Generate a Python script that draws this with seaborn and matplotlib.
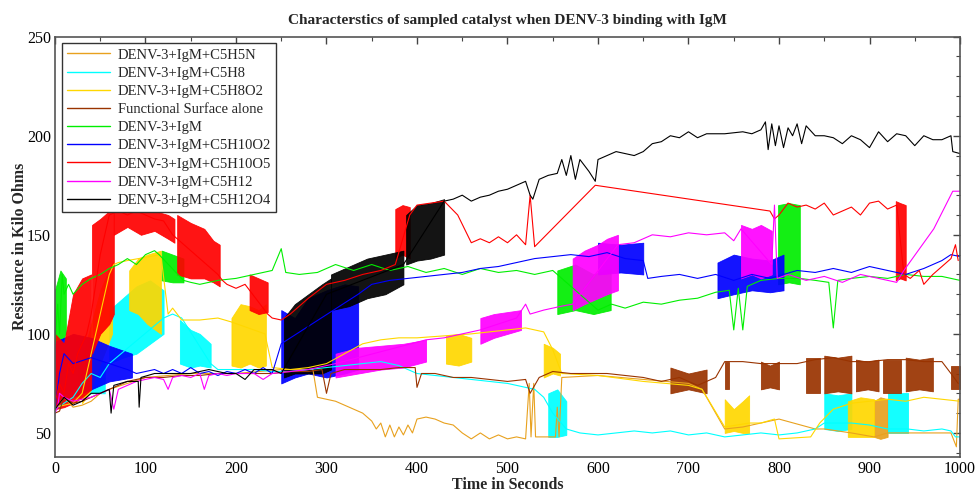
import matplotlib
matplotlib.use("Agg")
import matplotlib.pyplot as plt
import seaborn as sns
import pandas as pd
from matplotlib.ticker import MultipleLocator

# ---------------- data ----------------
series_names = ["DENV-3+IgM+C5H5N", "DENV-3+IgM+C5H8", "DENV-3+IgM+C5H8O2",
                "Functional Surface alone", "DENV-3+IgM", "DENV-3+IgM+C5H10O2",
                "DENV-3+IgM+C5H10O5", "DENV-3+IgM+C5H12", "DENV-3+IgM+C5H12O4"]
series_colors = ["#E8A11E", "#00FFFF", "#FFD700", "#993300", "#00EE00",
                 "#0000FF", "#FF0000", "#FF00FF", "#000000"]

# C5H5N (orange)
c5h5n_x = [0, 10, 20, 30, 40, 50, 60, 80, 100, 150, 200, 250, 285, 290, 300, 310, 320, 330, 340, 350, 355, 360, 365, 370, 375, 380, 385, 390, 395, 400, 410, 420, 430, 440, 445, 450, 460, 470, 480, 490, 500, 510, 520, 524, 526, 529, 531, 540, 553, 555, 557, 560, 600, 650, 700, 715, 740, 760, 780, 800, 840, 850, 880, 905, 920, 940, 960, 990, 996, 998, 1000]
c5h5n_y = [62, 68, 63, 64, 66, 70, 72, 75, 78, 80, 80, 82, 82, 68, 67, 66, 64, 62, 60, 56, 52, 55, 48, 54, 48, 53, 49, 54, 50, 57, 58, 57, 55, 54, 52, 50, 47, 50, 47, 49, 47, 48, 47, 75, 48, 75, 48, 48, 48, 63, 48, 78, 79, 77, 75, 72, 52, 53, 55, 57, 52, 52, 50, 48, 50, 50, 50, 50, 43, 67, 67]
c5h5n_band_x = [[905, 912, 920]]
c5h5n_band_lo = [[48, 47, 48]]
c5h5n_band_hi = [[66, 68, 67]]

# C5H8 (cyan)
c5h8_x = [0, 10, 20, 30, 40, 50, 60, 120, 130, 140, 172, 180, 200, 220, 240, 260, 280, 300, 320, 340, 360, 380, 400, 420, 440, 460, 480, 500, 520, 530, 540, 550, 565, 580, 600, 620, 640, 660, 680, 700, 720, 740, 760, 780, 800, 820, 840, 850, 880, 900, 920, 942, 960, 980, 990, 995, 1000]
c5h8_y = [62, 65, 68, 75, 80, 78, 85, 108, 110, 108, 85, 82, 82, 82, 81, 81, 82, 83, 84, 85, 86, 84, 80, 79, 78, 77, 76, 75, 73, 72, 68, 60, 52, 50, 49, 50, 51, 50, 51, 49, 50, 48, 49, 50, 49, 50, 52, 55, 55, 54, 52, 52, 51, 52, 51, 48, 48]
c5h8_band_x = [[25, 40, 55], [60, 75, 90, 105, 120], [138, 150, 160, 172], [545, 555, 565], [850, 865, 880], [920, 930, 942]]
c5h8_band_lo = [[68, 70, 70], [85, 88, 90, 95, 100], [85, 83, 84, 83], [48, 48, 49], [52, 51, 52], [50, 50, 50]]
c5h8_band_hi = [[84, 88, 86], [112, 118, 124, 127, 122], [107, 102, 100, 95], [70, 72, 66], [70, 69, 70], [70, 70, 70]]

# C5H8O2 (gold)
c5h8o2_x = [0, 20, 30, 45, 60, 65, 70, 80, 117, 125, 130, 140, 160, 180, 195, 232, 240, 260, 280, 300, 320, 340, 360, 380, 400, 430, 460, 480, 500, 520, 540, 550, 560, 600, 650, 700, 715, 740, 767, 780, 795, 800, 835, 845, 860, 880, 900, 920, 940, 960, 980, 1000]
c5h8o2_y = [63, 65, 70, 100, 130, 135, 136, 137, 140, 110, 113, 107, 107, 108, 106, 100, 83, 82, 83, 85, 90, 95, 97, 98, 98, 99, 100, 101, 102, 103, 101, 92, 80, 79, 76, 74, 72, 53, 55, 55, 57, 47, 48, 55, 62, 65, 66, 67, 66, 68, 67, 66]
c5h8o2_band_x = [[30, 40, 50, 63], [82, 92, 102, 117], [195, 205, 215, 225, 233], [432, 446, 460], [540, 550, 558], [740, 750, 760, 767], [876, 890, 905]]
c5h8o2_band_lo = [[65, 72, 85, 100], [112, 110, 105, 100], [84, 83, 85, 83, 84], [85, 84, 86], [78, 80, 79], [50, 51, 50, 50], [48, 48, 48]]
c5h8o2_band_hi = [[88, 105, 122, 136], [132, 138, 140, 142], [108, 115, 114, 112, 115], [99, 100, 98], [95, 93, 90], [67, 62, 66, 69], [66, 68, 67]]

# Functional Surface alone (brown)
fs_x = [0, 5, 10, 20, 30, 40, 50, 60, 70, 80, 90, 100, 120, 140, 160, 180, 200, 220, 240, 260, 280, 295, 300, 305, 320, 340, 360, 380, 398, 400, 405, 420, 440, 460, 480, 500, 520, 525, 535, 550, 570, 590, 610, 630, 650, 670, 690, 710, 730, 740, 760, 780, 800, 820, 840, 860, 880, 900, 920, 940, 960, 980, 990, 998]
fs_y = [60, 61, 68, 65, 66, 68, 70, 72, 74, 76, 77, 78, 78, 79, 79, 80, 80, 80, 80, 81, 81, 82, 70, 80, 82, 82, 82, 83, 83, 73, 80, 80, 78, 78, 77, 76, 77, 70, 78, 81, 80, 80, 80, 79, 78, 76, 78, 74, 78, 86, 86, 85, 85, 85, 87, 88, 86, 86, 87, 87, 86, 86, 80, 75]
fs_band_x = [[680, 700, 720], [740, 745], [780, 790, 800], [830, 845], [850, 865, 880], [885, 898, 910], [915, 935], [940, 955, 970], [990, 1000]]
fs_band_lo = [[70, 72, 70], [72, 72], [72, 73, 72], [70, 70], [70, 71, 70], [71, 72, 71], [70, 70], [71, 72, 71], [72, 72]]
fs_band_hi = [[83, 80, 82], [86, 86], [86, 84, 86], [88, 88], [89, 88, 89], [87, 86, 87], [87, 87], [88, 87, 88], [84, 84]]

# DENV-3+IgM (green)
igm_x = [0, 3, 5, 8, 10, 15, 20, 30, 40, 50, 60, 70, 80, 90, 100, 110, 115, 142, 150, 160, 170, 180, 200, 220, 240, 250, 255, 270, 290, 310, 330, 350, 370, 390, 410, 430, 450, 470, 490, 510, 530, 550, 560, 600, 615, 630, 650, 670, 690, 710, 730, 745, 750, 755, 760, 765, 780, 800, 823, 840, 855, 860, 865, 880, 900, 920, 940, 960, 980, 1000]
igm_y = [95, 115, 100, 130, 120, 125, 120, 125, 128, 130, 133, 135, 138, 135, 140, 142, 140, 127, 126, 125, 126, 127, 128, 130, 132, 143, 131, 130, 131, 135, 132, 135, 132, 134, 131, 133, 130, 133, 131, 132, 130, 132, 128, 112, 115, 113, 116, 115, 117, 118, 121, 122, 102, 123, 102, 124, 127, 128, 128, 127, 126, 103, 127, 128, 129, 128, 130, 129, 129, 127]
igm_band_x = [[0, 6, 12], [118, 130, 142], [555, 575, 595, 614], [799, 811, 823]]
igm_band_lo = [[90, 95, 100], [127, 126, 126], [110, 112, 110, 112], [125, 126, 125]]
igm_band_hi = [[122, 132, 128], [142, 140, 138], [132, 135, 130, 133], [165, 166, 165]]

# C5H10O2 (blue)
c5h10o2_x = [0, 5, 10, 20, 40, 60, 80, 90, 100, 110, 120, 130, 140, 150, 160, 170, 180, 190, 200, 210, 220, 230, 240, 250, 335, 350, 370, 390, 410, 430, 450, 470, 490, 510, 530, 550, 570, 590, 610, 630, 650, 655, 670, 690, 710, 730, 750, 770, 790, 805, 820, 840, 860, 880, 900, 920, 940, 960, 980, 990, 1000]
c5h10o2_y = [62, 80, 90, 85, 88, 85, 82, 80, 81, 82, 80, 82, 80, 83, 80, 81, 79, 81, 80, 82, 80, 83, 80, 95, 120, 125, 127, 128, 129, 130, 131, 133, 134, 136, 138, 139, 140, 139, 141, 138, 137, 128, 129, 130, 128, 130, 127, 130, 128, 130, 132, 131, 133, 131, 134, 132, 130, 133, 137, 140, 139]
c5h10o2_band_x = [[0, 20, 40, 60, 85], [250, 265, 280, 300, 320, 335], [600, 625, 650], [732, 750, 770, 790, 805]]
c5h10o2_band_lo = [[62, 68, 72, 76, 78], [75, 78, 80, 78, 80, 82], [130, 131, 130], [118, 120, 122, 121, 122]]
c5h10o2_band_hi = [[96, 100, 98, 94, 90], [112, 108, 118, 122, 125, 124], [146, 145, 146], [136, 140, 138, 137, 140]]

# C5H10O5 (red)
c5h10o5_x = [0, 5, 10, 15, 20, 25, 30, 35, 40, 50, 60, 70, 80, 90, 100, 110, 120, 130, 135, 180, 185, 190, 200, 210, 215, 235, 240, 250, 260, 280, 300, 320, 340, 360, 376, 392, 400, 430, 445, 460, 470, 480, 490, 500, 510, 520, 525, 530, 597, 790, 795, 800, 810, 820, 830, 840, 850, 860, 870, 880, 890, 900, 910, 920, 930, 938, 945, 955, 960, 970, 980, 990, 995, 998]
c5h10o5_y = [65, 75, 70, 85, 80, 90, 95, 100, 110, 140, 160, 162, 160, 162, 160, 158, 157, 150, 148, 130, 127, 125, 123, 125, 122, 110, 108, 107, 110, 118, 125, 127, 130, 132, 135, 160, 165, 167, 160, 146, 148, 146, 149, 146, 150, 145, 170, 144, 175, 162, 158, 160, 166, 164, 165, 163, 166, 160, 162, 164, 160, 166, 167, 163, 165, 130, 128, 132, 125, 130, 134, 138, 145, 137]
c5h10o5_band_x = [[0, 10, 20, 30, 40], [41, 50, 60, 65], [65, 80, 95, 110, 125, 132], [135, 150, 165, 175, 182], [215, 225, 235], [376, 384, 392], [929, 934, 940]]
c5h10o5_band_lo = [[62, 63, 65, 68, 72], [90, 100, 105, 110], [150, 154, 150, 152, 148, 146], [130, 128, 128, 126, 124], [112, 110, 111], [138, 140, 138], [127, 128, 127]]
c5h10o5_band_hi = [[100, 95, 120, 128, 130], [155, 158, 162, 165], [165, 163, 166, 162, 160, 158], [160, 156, 153, 147, 145], [130, 128, 126], [163, 165, 164], [167, 166, 165]]

# C5H12 (magenta)
c5h12_x = [0, 3, 5, 10, 20, 30, 40, 50, 60, 65, 70, 80, 90, 100, 110, 120, 125, 130, 140, 150, 160, 165, 170, 180, 190, 200, 220, 230, 240, 260, 280, 300, 310, 410, 430, 450, 470, 510, 520, 525, 540, 560, 572, 622, 640, 660, 680, 700, 720, 740, 750, 758, 792, 795, 798, 810, 830, 850, 870, 890, 910, 930, 938, 971, 992, 1000]
c5h12_y = [60, 63, 70, 68, 66, 67, 68, 70, 72, 62, 72, 74, 76, 77, 78, 77, 72, 78, 79, 78, 80, 72, 79, 80, 79, 80, 80, 77, 80, 81, 82, 84, 85, 97, 98, 100, 102, 108, 115, 110, 112, 114, 115, 145, 146, 150, 149, 151, 150, 151, 147, 153, 135, 165, 128, 130, 127, 129, 126, 130, 128, 126, 132, 153, 172, 172]
c5h12_band_x = [[310, 335, 360, 385, 410], [470, 485, 500, 515], [572, 585, 600, 610, 622], [758, 770, 780, 792]]
c5h12_band_lo = [[78, 80, 82, 83, 86], [95, 98, 100, 102], [112, 115, 118, 120, 122], [128, 130, 128, 130]]
c5h12_band_hi = [[90, 93, 94, 95, 97], [108, 110, 111, 112], [138, 142, 145, 148, 150], [155, 153, 155, 152]]

# C5H12O4 (black)
c5h12o4_x = [0, 10, 20, 30, 40, 50, 60, 62, 65, 80, 92, 93, 95, 110, 130, 150, 170, 190, 200, 210, 220, 240, 250, 300, 385, 430, 440, 450, 460, 470, 480, 490, 500, 510, 520, 525, 528, 535, 545, 555, 560, 565, 570, 575, 580, 590, 597, 600, 610, 620, 630, 640, 650, 660, 670, 680, 690, 700, 710, 720, 740, 760, 770, 780, 785, 788, 792, 796, 800, 805, 810, 815, 820, 825, 830, 840, 850, 860, 870, 880, 890, 900, 910, 920, 930, 940, 950, 960, 970, 980, 990, 992, 1000]
c5h12o4_y = [62, 68, 64, 66, 70, 70, 72, 60, 74, 76, 76, 63, 78, 80, 80, 80, 82, 80, 80, 77, 82, 82, 80, 120, 135, 167, 168, 170, 167, 169, 170, 172, 173, 175, 177, 170, 168, 178, 180, 181, 188, 180, 190, 178, 188, 182, 177, 188, 190, 192, 191, 190, 192, 196, 197, 200, 199, 202, 199, 201, 201, 202, 201, 203, 207, 193, 206, 195, 205, 194, 204, 200, 206, 196, 205, 200, 200, 199, 196, 200, 198, 194, 202, 197, 201, 200, 195, 200, 198, 198, 200, 192, 191]
c5h12o4_band_x = [[253, 265, 280, 295, 305], [305, 325, 345, 365, 385], [388, 400, 415, 430]]
c5h12o4_band_lo = [[78, 80, 80, 80, 82], [112, 114, 118, 120, 125], [135, 137, 138, 140]]
c5h12o4_band_hi = [[108, 115, 120, 125, 128], [130, 134, 138, 140, 142], [160, 165, 166, 168]]

x_ticks = [0, 100, 200, 300, 400, 500, 600, 700, 800, 900, 1000]
y_ticks = [50, 100, 150, 200, 250]

series_x = [c5h5n_x, c5h8_x, c5h8o2_x, fs_x, igm_x, c5h10o2_x, c5h10o5_x, c5h12_x, c5h12o4_x]
series_y = [c5h5n_y, c5h8_y, c5h8o2_y, fs_y, igm_y, c5h10o2_y, c5h10o5_y, c5h12_y, c5h12o4_y]
bands_x = [c5h5n_band_x, c5h8_band_x, c5h8o2_band_x, fs_band_x, igm_band_x, c5h10o2_band_x, c5h10o5_band_x, c5h12_band_x, c5h12o4_band_x]
bands_lo = [c5h5n_band_lo, c5h8_band_lo, c5h8o2_band_lo, fs_band_lo, igm_band_lo, c5h10o2_band_lo, c5h10o5_band_lo, c5h12_band_lo, c5h12o4_band_lo]
bands_hi = [c5h5n_band_hi, c5h8_band_hi, c5h8o2_band_hi, fs_band_hi, igm_band_hi, c5h10o2_band_hi, c5h10o5_band_hi, c5h12_band_hi, c5h12o4_band_hi]

# ---------------- plot ----------------
sns.set_theme(style="white")
plt.rcParams["font.family"] = ["Liberation Serif", "DejaVu Serif"]

fig = plt.figure(figsize=(9.8, 4.93), dpi=100)
ax = fig.add_axes([0.0561, 0.0736, 0.9235, 0.852])

for name, col, xs, ys, bx, blo, bhi in zip(series_names, series_colors, series_x, series_y,
                                            bands_x, bands_lo, bands_hi):
    df = pd.DataFrame({"t": xs, "r": ys})
    sns.lineplot(data=df, x="t", y="r", color=col, lw=0.8, label=name,
                 estimator=None, sort=False, ax=ax)
    for xx, lo, hi in zip(bx, blo, bhi):
        ax.fill_between(xx, lo, hi, color=col, lw=0.6, alpha=0.92)

ax.set_xlim(0, 1000)
ax.set_ylim(38, 250)
ax.set_xticks(x_ticks)
ax.set_yticks(y_ticks)
ax.xaxis.set_minor_locator(MultipleLocator(50))
ax.yaxis.set_minor_locator(MultipleLocator(10))
ax.tick_params(which="both", direction="in", top=True, right=True, colors="#444444",
               labelcolor="black", labelsize=11.5, pad=3)
ax.tick_params(which="major", length=5, width=1)
ax.tick_params(which="minor", length=3, width=0.8)
for s in ax.spines.values():
    s.set_color("#555555")
    s.set_linewidth(1.2)

ax.set_title("Characterstics of sampled catalyst when DENV-3 binding with IgM",
             fontsize=11, fontweight="bold", pad=9)
ax.set_xlabel("Time in Seconds", fontsize=11.5, fontweight="bold", labelpad=0)
ax.set_ylabel("Resistance in Kilo Ohms", fontsize=11.5, fontweight="bold", labelpad=-1)

leg = ax.legend(loc="upper left", fontsize=10.5, frameon=True, fancybox=False,
                borderpad=0.35, labelspacing=0.34, handlelength=3.0, handletextpad=0.5,
                borderaxespad=0.45)
leg.get_frame().set_edgecolor("#333333")
leg.get_frame().set_linewidth(1.0)
leg.get_frame().set_alpha(1.0)
for h in leg.get_lines():
    h.set_linewidth(1.0)

fig.savefig("out.png", dpi=100)
